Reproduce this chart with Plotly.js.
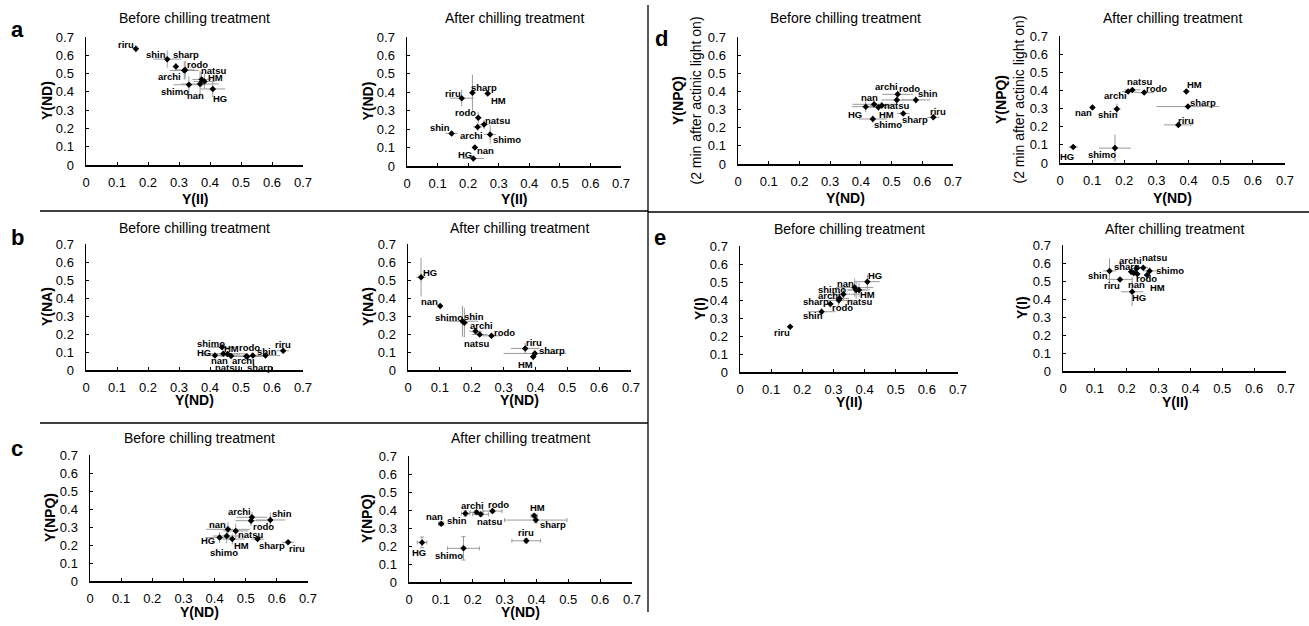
<!DOCTYPE html>
<html><head><meta charset="utf-8">
<script src="https://cdn.plot.ly/plotly-3.0.1.min.js"></script>
<style>body{margin:0;background:#fff}#chart{width:1309px;height:626px}</style>
</head><body><div id="chart"></div>
<script>
// ---------------- DATA ----------------
const names = ['riru','shin','sharp','rodo','archi','natsu','HM','shimo','nan','HG'];
const tickVals = [0,0.1,0.2,0.3,0.4,0.5,0.6,0.7];
const tickText = ['0','0.1','0.2','0.3','0.4','0.5','0.6','0.7'];

// Before chilling treatment
const YII_b   = [0.161,0.262,0.290,0.317,0.320,0.373,0.382,0.332,0.368,0.409];
const YND_b   = [0.636,0.579,0.538,0.517,0.520,0.468,0.457,0.439,0.443,0.416];
const YNA_b   = [0.107,0.080,0.080,0.077,0.075,0.078,0.089,0.126,0.090,0.080];
const YNPQ_b  = [0.215,0.339,0.233,0.335,0.354,0.278,0.233,0.250,0.287,0.241];
const YNPQ2_b = [0.257,0.353,0.279,0.353,0.384,0.323,0.313,0.248,0.329,0.316];
const YI_b    = [0.252,0.335,0.378,0.398,0.409,0.456,0.456,0.432,0.469,0.502];
const eYII_b   = [0.010,0.045,0.010,0.047,0.030,0.030,0.035,0.050,0.060,0.040];
const eYND_b   = [0.020,0.047,0.020,0.050,0.050,0.040,0.040,0.045,0.070,0.045];
const eYNA_b   = [0.008,0.010,0.010,0.008,0.008,0.008,0.010,0.010,0.010,0.010];
const eYNPQ_b  = [0.010,0.040,0.015,0.030,0.030,0.040,0.030,0.040,0.040,0.030];
const eYNPQ2_b = [0.010,0.020,0.010,0.020,0.020,0.020,0.020,0.020,0.020,0.030];
const eYI_b    = [0.010,0.020,0.020,0.030,0.030,0.050,0.040,0.040,0.050,0.040];

// After chilling treatment
const YII_a   = [0.179,0.146,0.214,0.233,0.231,0.252,0.264,0.272,0.222,0.217];
const YND_a   = [0.368,0.177,0.398,0.262,0.212,0.225,0.393,0.171,0.101,0.041];
const YNA_a   = [0.120,0.263,0.092,0.190,0.215,0.197,0.074,0.271,0.355,0.515];
const YNPQ_a  = [0.229,0.381,0.344,0.394,0.387,0.376,0.368,0.187,0.324,0.220];
const YNPQ2_a = [0.210,0.298,0.311,0.388,0.394,0.403,0.394,0.082,0.306,0.088];
const YI_a    = [0.509,0.556,0.552,0.539,0.570,0.574,0.533,0.556,0.545,0.440];
const eYII_a   = [0.040,0.020,0.010,0.010,0.015,0.015,0.010,0.020,0.010,0.035];
const eYND_a   = [0.045,0.012,0.098,0.030,0.020,0.025,0.010,0.050,0.008,0.015];
const eYNA_a   = [0.030,0.080,0.020,0.015,0.015,0.010,0.020,0.087,0.010,0.107];
const eYNPQ_a  = [0.012,0.015,0.015,0.010,0.010,0.010,0.010,0.065,0.010,0.030];
const eYNPQ2_a = [0.010,0.030,0.010,0.010,0.010,0.010,0.010,0.075,0.010,0.012];
const eYI_a    = [0.010,0.070,0.020,0.030,0.020,0.010,0.030,0.020,0.010,0.080];

// ---------------- STYLE / LAYOUT ----------------
const W = 1309, H = 626;
const FONT = 'Liberation Sans, Arial, sans-serif';
// label offsets [dx, dy(up)] in pixels, per panel, in names order
const OFF = {
 ab:[[-10,4],[-11,5],[10,12],[13,6],[-16,-7],[12,9],[11,4],[-14,-7],[-5,-12],[7,-10]],
 aa:[[-9,5],[-12,6],[12,5],[-13,5],[-6,-9],[14,4],[11,-7],[17,-5],[11,-3],[-8,4]],
 bb:[[0,6],[2,4],[7,-12],[3,9],[-4,-4],[-3,-12],[4,5],[-11,4],[-4,-7],[-11,3]],
 ba:[[9,6],[10,6],[17,3],[13,3],[6,6],[-3,-9],[-8,-8],[-13,4],[-11,5],[9,5]],
 cb:[[9,-6],[12,6],[14,-6],[12,-6],[-12,6],[15,-4],[9,-6],[-3,-16],[-10,5],[-12,-3]],
 ca:[[0,8],[-8,-7],[17,-4],[6,7],[-4,7],[9,-7],[3,8],[-14,-7],[-7,7],[-3,-10]],
 db:[[5,6],[12,6],[12,-6],[13,11],[-11,8],[15,0],[8,-7],[15,-5],[-5,7],[-11,-8]],
 da:[[8,4],[-9,-6],[15,4],[12,4],[-13,-4],[8,8],[8,7],[-13,-6],[-9,-5],[-6,-9]],
 eb:[[-8,-6],[-9,-4],[-14,2],[4,-7],[-10,3],[4,-12],[9,-5],[-11,5],[-9,4],[8,6]],
 ea:[[-8,-6],[-12,-5],[-4,5],[9,-5],[-6,8],[12,10],[10,-12],[20,0],[3,-12],[7,-6]]
};
const BEFORE = 'Before chilling treatment', AFTER = 'After chilling treatment';
const NPQ2 = '<b>Y(NPQ)</b><br>(2 min after actinic light on)';
// box: [xLeft, xRight, yBottom, yTop] in pixels; tY: title y; xtY: x-title y; ytX: y-title x
const panels = [
 {x:YII_b,ex:eYII_b,y:YND_b,ey:eYND_b,off:OFF.ab,box:[86,303,165,37],t:BEFORE,tY:18,xt:'<b>Y(II)</b>',xtY:199,yt:'<b>Y(ND)</b>',ytX:47,cap:0},
 {x:YII_a,ex:eYII_a,y:YND_a,ey:eYND_a,off:OFF.aa,box:[407,621,166,37],t:AFTER,tY:18,xt:'<b>Y(II)</b>',xtY:199,yt:'<b>Y(ND)</b>',ytX:367,cap:0},
 {x:YND_b,ex:eYND_b,y:YNA_b,ey:eYNA_b,off:OFF.bb,box:[86,303,370,244],t:BEFORE,tY:228,xt:'<b>Y(ND)</b>',xtY:400,yt:'<b>Y(NA)</b>',ytX:47,cap:0},
 {x:YND_a,ex:eYND_a,y:YNA_a,ey:eYNA_a,off:OFF.ba,box:[408,631,370,244],t:AFTER,tY:228,xt:'<b>Y(ND)</b>',xtY:400,yt:'<b>Y(NA)</b>',ytX:368,cap:0},
 {x:YND_b,ex:eYND_b,y:YNPQ_b,ey:eYNPQ_b,off:OFF.cb,box:[90,308,581,455],t:BEFORE,tY:438,xt:'<b>Y(ND)</b>',xtY:612,yt:'<b>Y(NPQ)</b>',ytX:50,cap:0},
 {x:YND_a,ex:eYND_a,y:YNPQ_a,ey:eYNPQ_a,off:OFF.ca,box:[409,632,582,456],t:AFTER,tY:438,xt:'<b>Y(ND)</b>',xtY:612,yt:'<b>Y(NPQ)</b>',ytX:367,cap:2},
 {x:YND_b,ex:eYND_b,y:YNPQ2_b,ey:eYNPQ2_b,off:OFF.db,box:[738,953,164,37],t:BEFORE,tY:18,xt:'<b>Y(ND)</b>',xtY:198,yt:NPQ2,ytX:687,cap:0},
 {x:YND_a,ex:eYND_a,y:YNPQ2_a,ey:eYNPQ2_a,off:OFF.da,box:[1060,1285,163,36],t:AFTER,tY:18,xt:'<b>Y(ND)</b>',xtY:198,yt:NPQ2,ytX:1010,cap:0},
 {x:YII_b,ex:eYII_b,y:YI_b,ey:eYI_b,off:OFF.eb,box:[740,958,372,246],t:BEFORE,tY:229,xt:'<b>Y(II)</b>',xtY:402,yt:'<b>Y(I)</b>',ytX:700,cap:0},
 {x:YII_a,ex:eYII_a,y:YI_a,ey:eYI_a,off:OFF.ea,box:[1063,1286,371,245],t:AFTER,tY:229,xt:'<b>Y(II)</b>',xtY:402,yt:'<b>Y(I)</b>',ytX:1022,cap:0}
];

const traces = [], annotations = [], layout = {
  width:W, height:H, margin:{l:0,r:0,t:0,b:0}, showlegend:false,
  paper_bgcolor:'#fff', plot_bgcolor:'rgba(0,0,0,0)', font:{family:FONT,color:'#000'},
  shapes:[
    {type:'line',xref:'paper',yref:'paper',x0:648/W,x1:648/W,y0:1-5/H,y1:1-612/H,line:{color:'#000',width:1.3}},
    {type:'line',xref:'paper',yref:'paper',x0:40/W,x1:648/W,y0:1-211/H,y1:1-211/H,line:{color:'#000',width:1.3}},
    {type:'line',xref:'paper',yref:'paper',x0:40/W,x1:648/W,y0:1-423/H,y1:1-423/H,line:{color:'#000',width:1.3}},
    {type:'line',xref:'paper',yref:'paper',x0:648/W,x1:1,y0:1-212/H,y1:1-212/H,line:{color:'#000',width:1.3}}
  ]
};
const axisCommon = {range:[0,0.7],tickmode:'array',tickvals:tickVals,ticktext:tickText,showline:true,
  linecolor:'#000',linewidth:1.5,ticks:'inside',ticklen:3,tickwidth:1,tickcolor:'#000',showgrid:false,
  zeroline:false,tickfont:{size:13,color:'#000',family:FONT},fixedrange:true};

panels.forEach((p,i)=>{
  const k = i===0 ? '' : String(i+1);
  const [x0,x1,yb,yt] = p.box;
  layout['xaxis'+k] = Object.assign({},axisCommon,{domain:[x0/W,x1/W],anchor:'y'+k,ticklabelstandoff:5});
  layout['yaxis'+k] = Object.assign({},axisCommon,{domain:[1-yb/H,1-yt/H],anchor:'x'+k,ticklabelstandoff:8});
  traces.push({type:'scatter',mode:'markers',x:p.x,y:p.y,xaxis:'x'+k,yaxis:'y'+k,cliponaxis:false,
    marker:{symbol:'diamond',size:5,color:'#000'},
    error_x:{type:'data',array:p.ex,color:'#9a9a9a',thickness:1,width:p.cap},
    error_y:{type:'data',array:p.ey,color:'#9a9a9a',thickness:1,width:p.cap},
    text:names,hoverinfo:'text+x+y'});
  names.forEach((n,j)=>{
    annotations.push({xref:'x'+k,yref:'y'+k,x:p.x[j],y:p.y[j],text:n,showarrow:false,
      xshift:p.off[j][0],yshift:p.off[j][1],xanchor:'center',yanchor:'middle',
      font:{size:9.5,family:FONT,color:'#000',weight:'bold'}});
  });
  const cx = (x0+x1)/2;
  annotations.push({xref:'paper',yref:'paper',x:cx/W,y:1-p.tY/H,text:p.t,showarrow:false,
    xanchor:'center',yanchor:'middle',font:{size:14,family:FONT,color:'#000'}});
  annotations.push({xref:'paper',yref:'paper',x:cx/W,y:1-p.xtY/H,text:p.xt,showarrow:false,
    xanchor:'center',yanchor:'middle',font:{size:14,family:FONT,color:'#000'}});
  annotations.push({xref:'paper',yref:'paper',x:p.ytX/W,y:1-((yb+yt)/2)/H,text:p.yt,showarrow:false,
    textangle:-90,xanchor:'center',yanchor:'middle',font:{size:14,family:FONT,color:'#000'}});
});
[['a',17,30],['b',17,238],['c',17,448],['d',661,38],['e',660,238]].forEach(([t,x,y])=>{
  annotations.push({xref:'paper',yref:'paper',x:x/W,y:1-y/H,text:'<b>'+t+'</b>',showarrow:false,
    xanchor:'center',yanchor:'middle',font:{size:22,family:FONT,color:'#000'}});
});
layout.annotations = annotations;
Plotly.newPlot('chart',traces,layout,{staticPlot:true,displayModeBar:false});
</script></body></html>
